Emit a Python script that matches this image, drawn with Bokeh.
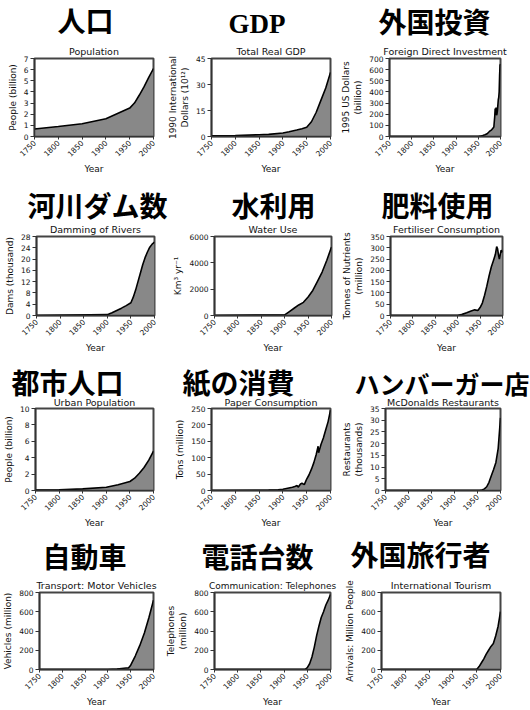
import math
from bokeh.plotting import figure
from bokeh.layouts import column, row
from bokeh.models import Range1d, FixedTicker, Title
from bokeh.embed import file_html
from bokeh.resources import INLINE

# ---------------- data ----------------
year_ticks = [1750, 1800, 1850, 1900, 1950, 2000]

pop_years = [1750, 1800, 1850, 1900, 1950, 1960, 1970, 1980, 1990, 2000]
pop_values = [0.68, 0.9, 1.15, 1.6, 2.55, 3.0, 3.7, 4.45, 5.3, 6.1]

gdp_years = [1750, 1800, 1850, 1870, 1900, 1913, 1929, 1940, 1950, 1960, 1970, 1980, 1990, 2000]
gdp_values = [0.4, 0.6, 1.0, 1.2, 2.0, 2.7, 3.7, 4.5, 5.3, 8.5, 14, 21, 28, 37]

fdi_years = [1750, 1950, 1955, 1960, 1965, 1970, 1975, 1980, 1982, 1985, 1987, 1988, 1989, 1990,
             1991, 1992, 1993, 1995, 1996, 1997, 1998, 1999, 2000]
fdi_values = [0, 0, 3, 8, 15, 25, 45, 60, 70, 85, 180, 250, 230, 260,
              190, 200, 230, 330, 350, 400, 550, 640, 650]

dam_years = [1750, 1900, 1910, 1920, 1930, 1940, 1950, 1955, 1960, 1965, 1970, 1975, 1980,
             1985, 1990, 1995, 2000]
dam_values = [0, 0.3, 1.0, 1.8, 2.6, 3.5, 4.5, 6.5, 9, 12, 15, 18, 20.5, 22.5, 24.2, 25.3, 26]

water_years = [1750, 1900, 1910, 1920, 1930, 1940, 1950, 1960, 1970, 1980, 1990, 2000]
water_values = [0, 50, 300, 550, 800, 1000, 1400, 1900, 2600, 3300, 4200, 5200]

fert_years = [1750, 1900, 1910, 1920, 1930, 1938, 1945, 1950, 1955, 1960, 1965, 1970, 1975,
              1980, 1984, 1987, 1989, 1991, 1993, 1995, 1997, 2000]
fert_values = [0, 0, 5, 12, 20, 25, 22, 35, 55, 90, 130, 175, 215,
               245, 270, 305, 295, 270, 250, 270, 290, 280]

urban_years = [1750, 1800, 1850, 1900, 1925, 1950, 1960, 1970, 1980, 1990, 2000]
urban_values = [0.05, 0.1, 0.2, 0.4, 0.7, 1.1, 1.5, 2.1, 2.8, 3.7, 4.8]

paper_years = [1750, 1850, 1870, 1890, 1900, 1910, 1920, 1925, 1930, 1932, 1937, 1940, 1945,
               1950, 1955, 1960, 1965, 1970, 1974, 1975, 1980, 1985, 1990, 1995, 2000]
paper_values = [0, 0.5, 1, 2, 4, 7, 10, 12, 15, 10, 20, 22, 18,
                35, 48, 65, 85, 110, 135, 115, 140, 160, 185, 210, 245]

mcd_years = [1750, 1955, 1960, 1965, 1970, 1975, 1980, 1985, 1990, 1995, 2000]
mcd_values = [0, 0, 0.2, 0.7, 1.6, 3.5, 6.3, 9, 12, 18, 31]

veh_years = [1750, 1900, 1920, 1930, 1940, 1945, 1950, 1960, 1970, 1980, 1990, 2000]
veh_values = [0, 0, 5, 10, 15, 15, 45, 140, 250, 380, 540, 720]

tel_years = [1750, 1945, 1950, 1955, 1960, 1965, 1970, 1975, 1980, 1985, 1990, 1995, 2000]
tel_values = [0, 0, 20, 60, 130, 230, 350, 450, 540, 600, 670, 720, 780]

tour_years = [1750, 1950, 1955, 1960, 1965, 1970, 1975, 1980, 1985, 1990, 1995, 2000]
tour_values = [0, 0, 30, 70, 110, 160, 200, 240, 270, 350, 450, 600]

jp_titles = ["人口", "GDP", "外国投資",
             "河川ダム数", "水利用", "肥料使用",
             "都市人口", "紙の消費", "ハンバーガー店",
             "自動車", "電話台数", "外国旅行者"]
en_titles = ["Population", "Total Real GDP", "Foreign Direct Investment",
             "Damming of Rivers", "Water Use", "Fertiliser Consumption",
             "Urban Population", "Paper Consumption", "McDonalds Restaurants",
             "Transport: Motor Vehicles", "Communication: Telephones", "International Tourism"]
y_labels = ["People (billion)", "1990 International\nDollars (10¹²)", "1995 US Dollars\n(billion)",
            "Dams (thousand)", "Km³ yr⁻¹", "Tonnes of Nutrients\n(million)",
            "People (billion)", "Tons (million)", "Restaurants\n(thousands)",
            "Vehicles (million)", "Telephones\n(million)", "Arrivals: Million People"]
y_max = [7, 45, 700, 28, 6000, 350, 10, 250, 35, 800, 800, 800]
y_step = [1, 15, 100, 4, 2000, 50, 2, 50, 5, 200, 200, 200]

series = [(pop_years, pop_values), (gdp_years, gdp_values), (fdi_years, fdi_values),
          (dam_years, dam_values), (water_years, water_values), (fert_years, fert_values),
          (urban_years, urban_values), (paper_years, paper_values), (mcd_years, mcd_values),
          (veh_years, veh_values), (tel_years, tel_values), (tour_years, tour_values)]

# ---------------- layout / style ----------------
cell_w = [[163, 175, 192], [170, 169, 191], [163, 175, 192], [163, 175, 192]]
cell_left = [[34, 48, 43], [36, 42, 43], [34, 48, 43], [34, 48, 43]]
frame_w = [[119, 119, 119], [118, 119, 120], [119, 119, 119], [119, 119, 119]]
row_h = [180, 180, 175, 175]
row_top = [57, 56, 48, 57]
row_bottom = [44, 45, 45, 38]
en_standoff = [2.5, 2.5, 0.5, 3.5]
jp_standoff = [9, 7, 7, -5, -5, -5, -10, -10, -9, 4, 5, 7]
jp_offset = [23, 17, -11, -9, 17, -9, -24, -29, -31, 3, -13, -31]
jp_size = ["28px"] * 12
jp_size[8] = "25px"
en_size = ["9.5px"] * 12
en_size[10] = "9px"

EN_FONT = "DejaVu Sans"
JP_FONT = "Liberation Sans, Noto Sans CJK JP"
TXT = "#111111"


def make_panel(i):
    r, c = divmod(i, 3)
    xs, ys = series[i]
    w = cell_w[r][c]
    left = cell_left[r][c]
    right = w - left - frame_w[r][c]
    p = figure(width=w, height=row_h[r],
               x_range=Range1d(1750, 2000), y_range=Range1d(0, y_max[i]),
               output_backend="svg", toolbar_location=None, title=None,
               min_border_left=left, min_border_right=right,
               min_border_top=row_top[r], min_border_bottom=row_bottom[r])
    en = Title(text=en_titles[i], text_font=EN_FONT, text_font_size=en_size[i],
               text_font_style="normal", text_color=TXT, align="center",
               standoff=en_standoff[r])
    p.add_layout(en, "above")
    if jp_titles[i] == "GDP":
        jfont, jsize = "Liberation Serif", "27px"
    else:
        jfont, jsize = JP_FONT, jp_size[i]
    jp = Title(text=jp_titles[i], text_font=jfont, text_font_size=jsize,
               text_font_style="bold", text_color="black", align="left",
               offset=jp_offset[i], standoff=jp_standoff[i])
    p.add_layout(jp, "above")

    p.varea(x=xs, y1=0, y2=ys, fill_color="#888888")
    p.line(xs, ys, line_color="black", line_width=1.6)

    p.xgrid.visible = False
    p.ygrid.visible = False
    p.outline_line_color = "#444444"
    p.outline_line_width = 2
    p.background_fill_color = "white"
    p.border_fill_color = "white"

    p.xaxis.ticker = FixedTicker(ticks=year_ticks)
    p.yaxis.ticker = FixedTicker(ticks=list(range(0, y_max[i] + 1, y_step[i])))
    for ax in (p.xaxis[0], p.yaxis[0]):
        ax.axis_line_color = "#333333"
        ax.axis_line_width = 1.5
        ax.major_tick_line_color = "#333333"
        ax.major_tick_in = 0
        ax.minor_tick_line_color = None
        ax.major_label_text_font = EN_FONT
        ax.major_label_text_font_size = "7.5px"
        ax.major_label_text_color = TXT
        ax.axis_label_text_font = EN_FONT
        ax.axis_label_text_font_size = "9px"
        ax.axis_label_text_font_style = "normal"
        ax.axis_label_text_color = TXT
    p.xaxis.major_tick_out = 3
    p.yaxis.major_tick_out = 4
    p.xaxis.major_label_orientation = math.pi / 4
    p.xaxis.major_label_standoff = 2
    p.yaxis.major_label_standoff = 2
    p.xaxis.axis_label = "Year"
    p.xaxis.axis_label_standoff = 2
    p.yaxis.axis_label = y_labels[i]
    p.yaxis.axis_label_standoff = 3
    return p


panels = [make_panel(i) for i in range(12)]
layout = column(*[row(*panels[r * 3:(r + 1) * 3]) for r in range(4)])

open("out.html", "w").write(file_html(layout, INLINE))
